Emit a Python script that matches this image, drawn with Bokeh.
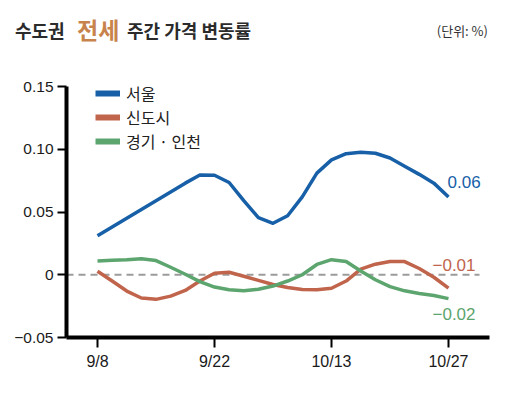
import numpy as np
from bokeh.plotting import figure
from bokeh.layouts import column
from bokeh.models import (Range1d, FixedTicker, Label, Legend, LegendItem, Div)
from bokeh.embed import file_html
from bokeh.resources import INLINE

# ---------------- data ----------------
weeks = ["9/8", "9/15", "9/22", "9/29", "10/13", "10/20", "10/27"]
shown_week_ticks = [0, 2, 4, 6]
y_ticks = [-0.05, 0, 0.05, 0.10, 0.15]
y_tick_labels = ["\u22120.05", "0", "0.05", "0.10", "0.15"]

series_names = ["서울", "신도시", "경기 · 인천"]
# values every quarter week (week index 0 .. 6)
seoul = [0.031, 0.038, 0.045, 0.052, 0.059, 0.066, 0.073, 0.0795, 0.0793,
         0.0735, 0.059, 0.0455, 0.041, 0.047, 0.062, 0.081, 0.0915, 0.0965,
         0.0977, 0.0968, 0.093, 0.0865, 0.080, 0.073, 0.062]
newtown = [0.0028, -0.005, -0.013, -0.0185, -0.0196, -0.017, -0.0125, -0.005,
           0.0012, 0.002, -0.0012, -0.0045, -0.0078, -0.0102, -0.0118, -0.012,
           -0.0108, -0.005, 0.0045, 0.0084, 0.0105, 0.0105, 0.005, -0.002, -0.0106]
gyeonggi = [0.011, 0.0115, 0.012, 0.0128, 0.0113, 0.006, 0.0004, -0.0055,
            -0.0098, -0.012, -0.0127, -0.0115, -0.009, -0.005, 0.000, 0.0082,
            0.012, 0.0105, 0.003, -0.004, -0.0095, -0.0128, -0.015, -0.0165, -0.019]
end_labels = ["0.06", "\u22120.01", "\u22120.02"]

title_parts = ["수도권", "전세", "주간 가격 변동률"]
unit_text = "(단위: %)"

colors = ["#1760a8", "#c0644c", "#5ca56e"]
sample_week = np.arange(len(seoul)) / 4.0

# ---------------- header ----------------
W, H = 511, 396
HEAD = 50
kr = "'Noto Sans CJK KR', sans-serif"
header_html = (
    f'<div style="position:relative;width:{W}px;height:{HEAD}px;font-family:{kr};">'
    f'<span style="position:absolute;left:15px;top:21px;font-size:18px;line-height:18px;'
    f'font-weight:bold;color:#2b2b2b;">{title_parts[0]}</span>'
    f'<span style="position:absolute;left:77px;top:18px;font-size:23px;line-height:23px;'
    f'font-weight:bold;color:#c8834c;">{title_parts[1]}</span>'
    f'<span style="position:absolute;left:127px;top:21px;font-size:18px;line-height:18px;'
    f'font-weight:bold;color:#2b2b2b;">{title_parts[2]}</span>'
    f'<span style="position:absolute;right:23px;top:24px;font-size:13px;line-height:13px;'
    f'color:#333333;">{unit_text}</span>'
    '</div>'
)
header = Div(text=header_html, width=W, height=HEAD, margin=(0, 0, 0, 0))

# ---------------- figure ----------------
y_lo, y_hi = -0.05, 0.15
frame_top_px, axis_top_px, frame_bottom_px = HEAD, 86, 337
px_per_unit = (frame_bottom_px - axis_top_px) / (y_hi - y_lo)
y_end = y_lo + (frame_bottom_px - frame_top_px) / px_per_unit
x_start, x_axis_end, x_end = -0.53, 6.70, 7.077

p = figure(width=W, height=H - HEAD, output_backend="svg", toolbar_location=None,
           x_range=Range1d(x_start, x_end), y_range=Range1d(y_lo, y_end),
           min_border_left=66, min_border_right=0, min_border_top=0,
           min_border_bottom=H - frame_bottom_px, margin=(0, 0, 0, 0))
p.outline_line_color = None
p.xgrid.visible = False
p.ygrid.visible = False
p.background_fill_color = "white"
p.border_fill_color = "white"

font = "Liberation Sans"
for ax in (p.xaxis[0], p.yaxis[0]):
    ax.axis_line_width = 4
    ax.axis_line_color = "black"
    ax.major_tick_line_width = 2
    ax.major_tick_line_color = "black"
    ax.major_tick_in = 0
    ax.minor_tick_line_color = None
    ax.major_label_text_font = font
    ax.major_label_text_color = "#1a1a1a"

p.yaxis.ticker = FixedTicker(ticks=y_ticks)
p.yaxis.major_label_overrides = {t: l for t, l in zip(y_ticks, y_tick_labels)}
p.yaxis.major_tick_out = 9
p.yaxis.major_label_text_font_size = "15.5px"
p.yaxis.major_label_standoff = 4
p.yaxis.bounds = (y_lo, y_hi)

p.xaxis.ticker = FixedTicker(ticks=shown_week_ticks)
p.xaxis.major_label_overrides = {i: weeks[i] for i in shown_week_ticks}
p.xaxis.major_tick_out = 10
p.xaxis.major_label_text_font_size = "16px"
p.xaxis.major_label_standoff = 5
p.xaxis.bounds = (x_start, x_axis_end)

# zero reference line (from the axis to just past the last week)
p.segment(x0=[x_start], y0=[0], x1=[len(weeks) - 1 + 0.53], y1=[0],
          line_color="#9c9c9c", line_width=2, line_dash="7 5")

all_series = [seoul, newtown, gyeonggi]
for vals, c in zip(all_series, colors):
    p.line(sample_week, vals, line_color=c, line_width=3.5, line_join="round")

# legend swatches: thicker stand-in renderers holding no visible data
items = []
for n, c in zip(series_names, colors):
    r = p.line([np.nan], [np.nan], line_color=c, line_width=6)
    items.append(LegendItem(label=n, renderers=[r]))
item_h = 24
legend_h = 3 * item_h
legend_top_px = 93 - item_h // 2
legend = Legend(items=items,
                location=(29, frame_bottom_px - (legend_top_px + legend_h)),
                padding=0, margin=0,
                border_line_color=None, background_fill_alpha=0,
                glyph_width=25, glyph_height=item_h, label_height=item_h,
                spacing=0, label_standoff=6,
                label_text_font="Noto Sans CJK KR",
                label_text_font_size="16px", label_text_color="#222222")
p.add_layout(legend)

# end labels
x_offsets = [-1, -16, -16]
y_offsets = [15, 23, -15]
last = len(seoul) - 1
for vals, c, txt, xo, yo in zip(all_series, colors, end_labels, x_offsets, y_offsets):
    p.add_layout(Label(x=sample_week[last], y=vals[last], text=txt,
                       x_offset=xo, y_offset=yo, text_color=c,
                       text_font=font, text_font_size="17px",
                       text_baseline="middle", text_align="left"))

layout = column(header, p, spacing=0, margin=(0, 0, 0, 0))
open("out.html", "w").write(file_html(layout, INLINE))
